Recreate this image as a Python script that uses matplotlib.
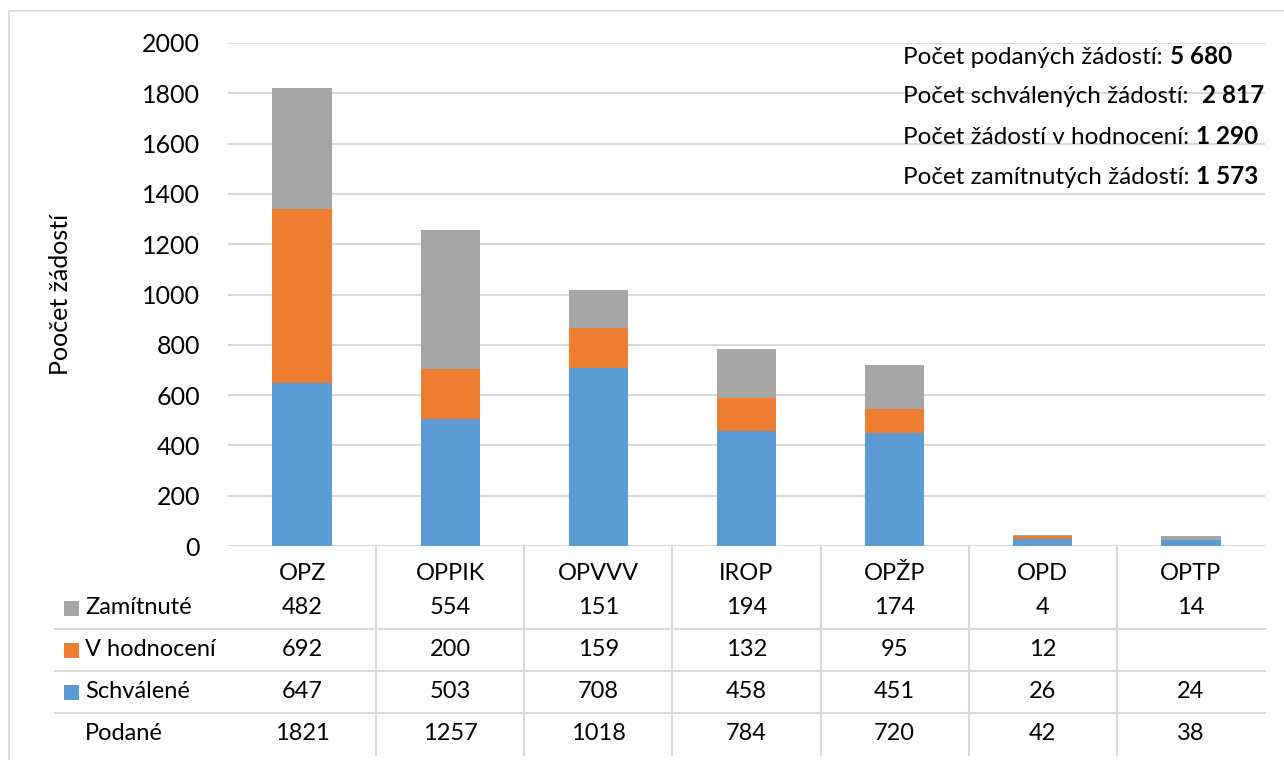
import matplotlib
matplotlib.use("Agg")
import matplotlib.pyplot as plt
from matplotlib.lines import Line2D
from matplotlib.patches import Rectangle
import matplotlib.transforms as mtransforms

plt.rcParams['font.family'] = ['Lato', 'DejaVu Sans']

# ---- data ----
categories = ["OPZ", "OPPIK", "OPVVV", "IROP", "OPŽP", "OPD", "OPTP"]
schvalene = [647, 503, 708, 458, 451, 26, 24]
v_hodnoceni = [692, 200, 159, 132, 95, 12, None]
zamitnute = [482, 554, 151, 194, 174, 4, 14]
podane = [1821, 1257, 1018, 784, 720, 42, 38]

colors = {"Schválené": "#5B9BD5", "V hodnocení": "#ED7D31", "Zamítnuté": "#A5A5A5"}
y_ticks = list(range(0, 2001, 200))
y_label = "Poočet žádostí"

summary_labels = ["Počet podaných žádostí:", "Počet schválených žádostí:",
                  "Počet žádostí v hodnocení:", "Počet zamítnutých žádostí:"]
summary_values = ["5 680", "2 817", "1 290", "1 573"]
summary_gaps = [1, 2, 1, 1]  # number of spaces before value

W, H = 1284, 760
GRID = "#D9D9D9"

fig = plt.figure(figsize=(W / 100, H / 100), dpi=100)


def fx(x):
    return x / W


def fy(y):
    return 1 - y / H


# outer border
fig.patches.append(Rectangle((fx(9), fy(800)), fx(1400), fy(11) - fy(800),
                             transform=fig.transFigure, fill=False,
                             edgecolor=GRID, linewidth=1.2))

ax = fig.add_axes([fx(228), fy(546), fx(1265) - fx(228), fy(43) - fy(546)])
ax.set_xlim(-0.5, len(categories) - 0.5)
ax.set_ylim(0, 2000)
for s in ax.spines.values():
    s.set_visible(False)
ax.set_yticks(y_ticks)
ax.set_yticklabels([str(v) for v in y_ticks])
ax.tick_params(axis='y', length=0, pad=20, labelsize=18)
ax.set_xticks([])
ax.yaxis.grid(True, color=GRID, linewidth=1.5)
ax.set_axisbelow(True)

fig.text(fx(61), fy(294.5), y_label, rotation=90, ha='center', va='center', fontsize=18)

x = list(range(len(categories)))
hv = [v if v is not None else 0 for v in v_hodnoceni]
b2 = [a + b for a, b in zip(schvalene, hv)]
bw = 0.4
ax.bar(x, schvalene, bw, color=colors["Schválené"], zorder=3)
ax.bar(x, hv, bw, bottom=schvalene, color=colors["V hodnocení"], zorder=3)
ax.bar(x, zamitnute, bw, bottom=b2, color=colors["Zamítnuté"], zorder=3)

# ---- data table ----
bt = mtransforms.blended_transform_factory(ax.transData, fig.transFigure)
header_y = 573
row_y = {"Zamítnuté": 608, "V hodnocení": 650, "Schválené": 692, "Podané": 733}
row_vals = {"Zamítnuté": zamitnute, "V hodnocení": v_hodnoceni,
            "Schválené": schvalene, "Podané": podane}
TFS = 17

for i, c in enumerate(categories):
    fig.text(i, fy(header_y), c, transform=bt, ha='center', va='center', fontsize=TFS)
    for name, vals in row_vals.items():
        v = vals[i]
        if v is not None:
            fig.text(i, fy(row_y[name]), str(v), transform=bt,
                     ha='center', va='center', fontsize=TFS)

for name in ["Zamítnuté", "V hodnocení", "Schválené", "Podané"]:
    yy = row_y[name]
    if name in colors:
        fig.patches.append(Rectangle((fx(64), fy(yy + 7.5)), fx(15), fy(yy - 7.5) - fy(yy + 7.5),
                                     transform=fig.transFigure, facecolor=colors[name],
                                     edgecolor='none'))
    fig.text(fx(85), fy(yy), name, ha='left', va='center', fontsize=TFS)

for yy in [629, 671, 713]:
    fig.lines.append(Line2D([fx(55), fx(1265)], [fy(yy), fy(yy)],
                            transform=fig.transFigure, color=GRID, linewidth=1.5))
for i in range(len(categories) - 1):
    fig.lines.append(Line2D([i + 0.5, i + 0.5], [fy(546), fy(755)],
                            transform=bt, color=GRID, linewidth=1.5))

# ---- summary text box ----
base_ys = [64, 103, 144, 184]
SFS = 17.5
for lab, val, gap, by in zip(summary_labels, summary_values, summary_gaps, base_ys):
    t = fig.text(fx(903), fy(by), lab, ha='left', va='baseline', fontsize=SFS)
    ax.annotate(val, xy=(1, fy(by)), xycoords=(t, 'figure fraction'),
                xytext=(5 * gap, 0), textcoords='offset points',
                ha='left', va='baseline', fontsize=SFS, fontweight='bold')

fig.savefig("out.png", dpi=100)
